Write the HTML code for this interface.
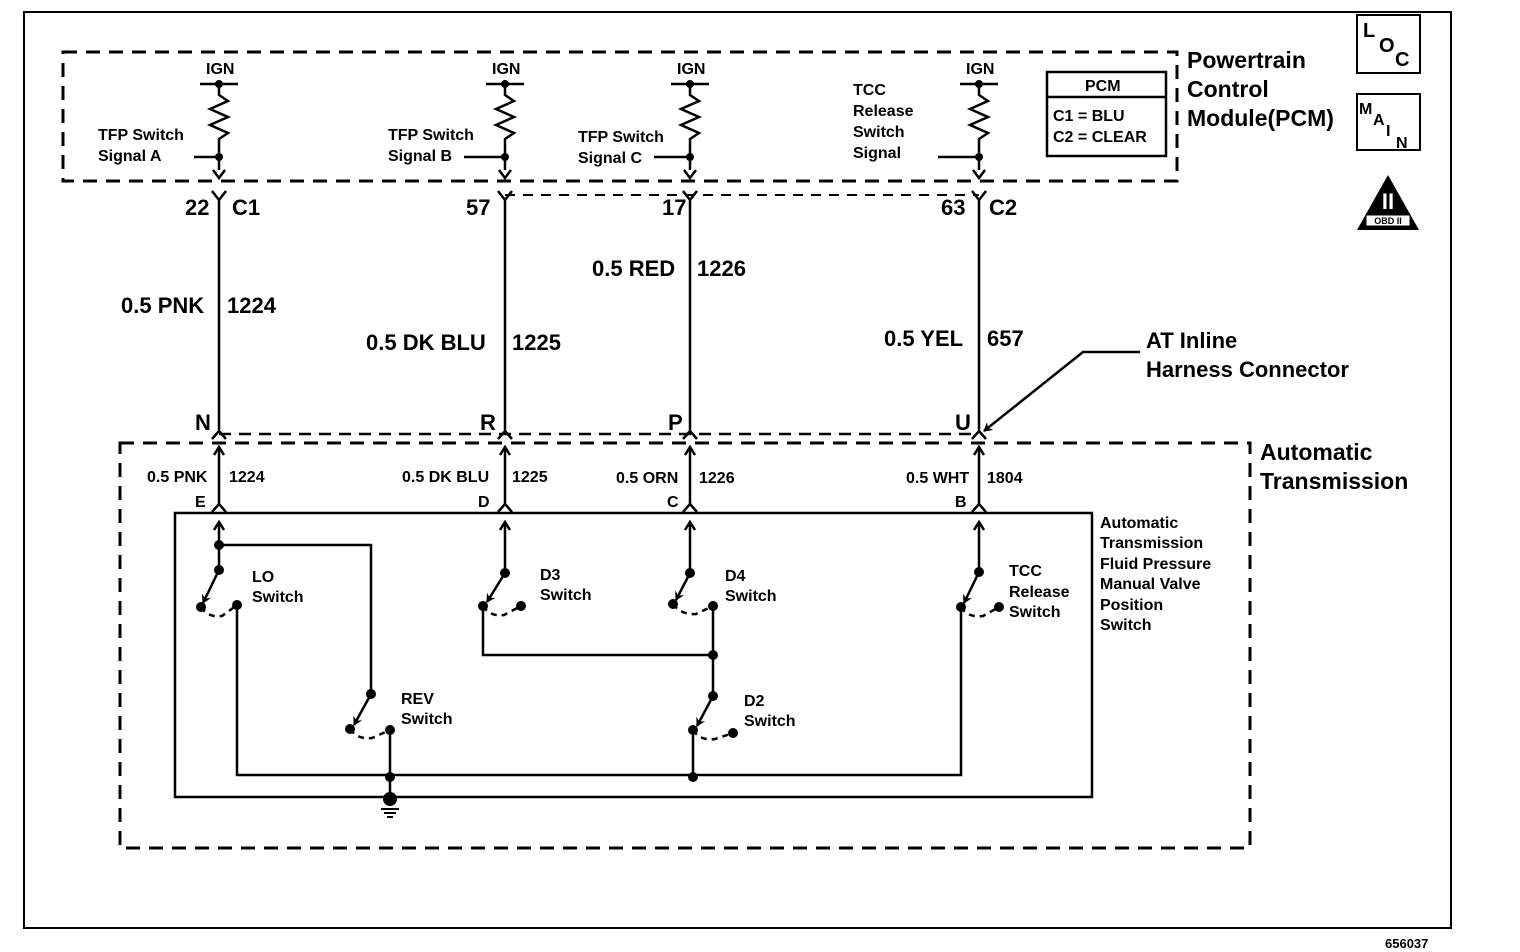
<!DOCTYPE html>
<html><head><meta charset="utf-8"><style>
html,body{margin:0;padding:0;background:#fff;}
svg{display:block;}
text{font-family:"Liberation Sans",Arial,sans-serif;fill:#000;}
.s{font-size:16px;font-weight:600;}
.m{font-size:22px;font-weight:600;}
.l{font-size:23px;font-weight:600;}
</style></head><body>
<svg width="1520" height="952" viewBox="0 0 1520 952" xmlns="http://www.w3.org/2000/svg">
<defs>
<marker id="ah" markerWidth="10" markerHeight="10" refX="8" refY="5" orient="auto" markerUnits="userSpaceOnUse"><path d="M0,0 L9,5 L0,10 L3,5 Z" fill="#000"/></marker>
</defs>
<g stroke="#000" fill="none" stroke-width="2.5">
<rect x="24" y="12" width="1427" height="916" stroke-width="2"/>
<rect x="63" y="52" width="1114" height="129" stroke-width="3" stroke-dasharray="14,9"/>
<rect x="120" y="443" width="1130" height="405" stroke-width="3" stroke-dasharray="14,9"/>
<path d="M219,434 L979,434" stroke-width="2.5" stroke-dasharray="12,8"/>
<path d="M505,195 L979,195" stroke-width="2" stroke-dasharray="10,8"/>
<rect x="175" y="513" width="917" height="284" stroke-width="2.5"/>

<g>
<path d="M200,84 L238,84"/>
<path d="M219,84 L219,95 L228,101 L210,109 L228,117 L210,125 L228,133 L219,139 L219,170"/>
<path d="M194,157 L219,157"/>
<path d="M213,170 L219,178 L225,170"/>
</g>
<g transform="translate(286,0)"><path d="M200,84 L238,84"/><path d="M219,84 L219,95 L228,101 L210,109 L228,117 L210,125 L228,133 L219,139 L219,170"/><path d="M213,170 L219,178 L225,170"/></g>
<path d="M464,157 L505,157"/>
<g transform="translate(471,0)"><path d="M200,84 L238,84"/><path d="M219,84 L219,95 L228,101 L210,109 L228,117 L210,125 L228,133 L219,139 L219,170"/><path d="M213,170 L219,178 L225,170"/></g>
<path d="M654,157 L690,157"/>
<g transform="translate(760,0)"><path d="M200,84 L238,84"/><path d="M219,84 L219,95 L228,101 L210,109 L228,117 L210,125 L228,133 L219,139 L219,170"/><path d="M213,170 L219,178 L225,170"/></g>
<path d="M938,157 L979,157"/>

<rect x="1047" y="72" width="119" height="84" stroke-width="2.5"/>
<path d="M1047,97 L1166,97"/>

<g>
<path d="M219,200 L219,430"/><path d="M212,191 L219,200 L226,191"/>
<path d="M505,200 L505,430"/><path d="M498,191 L505,200 L512,191"/>
<path d="M690,200 L690,430"/><path d="M683,191 L690,200 L697,191"/>
<path d="M979,200 L979,430"/><path d="M972,191 L979,200 L986,191"/>
</g>
<g>
<path d="M212,439 L219,431 L226,439"/><path d="M219,447 L219,506"/><path d="M214,455 L219,447 L224,455"/><path d="M212,512 L219,504 L226,512"/><path d="M219,522 L219,570"/><path d="M214,530 L219,522 L224,530"/>
<path d="M498,439 L505,431 L512,439"/><path d="M505,447 L505,506"/><path d="M500,455 L505,447 L510,455"/><path d="M498,512 L505,504 L512,512"/><path d="M505,522 L505,573"/><path d="M500,530 L505,522 L510,530"/>
<path d="M683,439 L690,431 L697,439"/><path d="M690,447 L690,506"/><path d="M685,455 L690,447 L695,455"/><path d="M683,512 L690,504 L697,512"/><path d="M690,522 L690,573"/><path d="M685,530 L690,522 L695,530"/>
<path d="M972,439 L979,431 L986,439"/><path d="M979,447 L979,506"/><path d="M974,455 L979,447 L984,455"/><path d="M972,512 L979,504 L986,512"/><path d="M979,522 L979,572"/><path d="M974,530 L979,522 L984,530"/>
</g>

<path d="M219,545 L371,545 L371,694"/>
<path d="M237,605 L237,775 L961,775 L961,607"/>
<path d="M390,730 L390,797"/>
<path d="M483,606 L483,655 L713,655"/>
<path d="M713,606 L713,696"/>
<path d="M693,730 L693,775"/>

<path d="M219,570 L203,603" marker-end="url(#ah)"/>
<path d="M201,607 Q208,618 222,616 L237,605" stroke-dasharray="6,5"/>
<path d="M371,694 L354,725" marker-end="url(#ah)"/>
<path d="M350,729 Q358,740 372,738 L390,730" stroke-dasharray="6,5"/>
<path d="M505,573 L487,602" marker-end="url(#ah)"/>
<path d="M483,606 Q490,617 504,615 L521,606" stroke-dasharray="6,5"/>
<path d="M690,573 L676,600" marker-end="url(#ah)"/>
<path d="M673,604 Q681,615 696,614 L713,606" stroke-dasharray="6,5"/>
<path d="M713,696 L697,726" marker-end="url(#ah)"/>
<path d="M693,730 Q700,741 715,739 L733,733" stroke-dasharray="6,5"/>
<path d="M979,572 L964,603" marker-end="url(#ah)"/>
<path d="M961,607 Q968,618 983,616 L999,607" stroke-dasharray="6,5"/>

<path d="M381,809 L399,809 M384,813 L396,813 M387,817 L393,817" stroke-width="2"/>

<path d="M1140,352 L1083,352 L984,431" marker-end="url(#ah)"/>

<rect x="1357" y="15" width="63" height="58" stroke-width="2"/>
<rect x="1357" y="94" width="63" height="56" stroke-width="2"/>
</g>

<g fill="#000">
<circle cx="219" cy="84" r="4"/><circle cx="219" cy="157" r="4"/>
<circle cx="505" cy="84" r="4"/><circle cx="505" cy="157" r="4"/>
<circle cx="690" cy="84" r="4"/><circle cx="690" cy="157" r="4"/>
<circle cx="979" cy="84" r="4"/><circle cx="979" cy="157" r="4"/>
<circle cx="219" cy="545" r="5"/><circle cx="219" cy="570" r="5"/><circle cx="201" cy="607" r="5"/><circle cx="237" cy="605" r="5"/>
<circle cx="371" cy="694" r="5"/><circle cx="350" cy="729" r="5"/><circle cx="390" cy="730" r="5"/><circle cx="390" cy="777" r="5"/>
<circle cx="505" cy="573" r="5"/><circle cx="483" cy="606" r="5"/><circle cx="521" cy="606" r="5"/>
<circle cx="690" cy="573" r="5"/><circle cx="673" cy="604" r="5"/><circle cx="713" cy="606" r="5"/><circle cx="713" cy="655" r="5"/>
<circle cx="713" cy="696" r="5"/><circle cx="693" cy="730" r="5"/><circle cx="733" cy="733" r="5"/><circle cx="693" cy="777" r="5"/>
<circle cx="979" cy="572" r="5"/><circle cx="961" cy="607" r="5"/><circle cx="999" cy="607" r="5"/>
<circle cx="390" cy="799" r="7"/>
<path d="M1388,175 L1357,230 L1419,230 Z"/>
</g>
<rect x="1366" y="215" width="44" height="11" fill="#fff" stroke="#000"/>
<text x="1388" y="224" font-size="9" text-anchor="middle" font-weight="bold">OBD II</text>
<text x="1388" y="209" font-size="22" text-anchor="middle" style="fill:#fff" font-family="Liberation Serif" font-weight="bold">II</text>

<g class="s">
<text x="206" y="74">IGN</text><text x="492" y="74">IGN</text><text x="677" y="74">IGN</text><text x="966" y="74">IGN</text>
<text x="98" y="140">TFP Switch</text><text x="98" y="161">Signal A</text>
<text x="388" y="140">TFP Switch</text><text x="388" y="161">Signal B</text>
<text x="578" y="142">TFP Switch</text><text x="578" y="163">Signal C</text>
<text x="853" y="95">TCC</text><text x="853" y="116">Release</text><text x="853" y="137">Switch</text><text x="853" y="158">Signal</text>
<text x="1085" y="91">PCM</text>
<text x="1053" y="121">C1 = BLU</text><text x="1053" y="142">C2 = CLEAR</text>
<text x="147" y="482">0.5 PNK</text><text x="229" y="482">1224</text>
<text x="402" y="482">0.5 DK BLU</text><text x="512" y="482">1225</text>
<text x="616" y="483">0.5 ORN</text><text x="699" y="483">1226</text>
<text x="906" y="483">0.5 WHT</text><text x="987" y="483">1804</text>
<text x="195" y="507">E</text><text x="478" y="507">D</text><text x="667" y="507">C</text><text x="955" y="507">B</text>
<text x="252" y="582">LO</text><text x="252" y="602">Switch</text>
<text x="401" y="704">REV</text><text x="401" y="724">Switch</text>
<text x="540" y="580">D3</text><text x="540" y="600">Switch</text>
<text x="725" y="581">D4</text><text x="725" y="601">Switch</text>
<text x="744" y="706">D2</text><text x="744" y="726">Switch</text>
<text x="1009" y="576">TCC</text><text x="1009" y="597">Release</text><text x="1009" y="617">Switch</text>
<text x="1100" y="528">Automatic</text><text x="1100" y="548">Transmission</text><text x="1100" y="569">Fluid Pressure</text><text x="1100" y="589">Manual Valve</text><text x="1100" y="610">Position</text><text x="1100" y="630">Switch</text>
<text x="1363" y="37" font-size="20">L</text><text x="1379" y="52" font-size="20">O</text><text x="1395" y="66" font-size="20">C</text>
<text x="1359" y="114" font-size="16">M</text><text x="1373" y="125" font-size="16">A</text><text x="1386" y="136" font-size="16">I</text><text x="1396" y="148" font-size="16">N</text>
<text x="1385" y="948" font-size="13">656037</text>
</g>
<g class="m">
<text x="185" y="215">22</text><text x="232" y="215">C1</text>
<text x="466" y="215">57</text>
<text x="662" y="215">17</text>
<text x="941" y="215">63</text><text x="989" y="215">C2</text>
<text x="121" y="313">0.5 PNK</text><text x="227" y="313">1224</text>
<text x="366" y="350">0.5 DK BLU</text><text x="512" y="350">1225</text>
<text x="592" y="276">0.5 RED</text><text x="697" y="276">1226</text>
<text x="884" y="346">0.5 YEL</text><text x="987" y="346">657</text>
<text x="195" y="430">N</text><text x="480" y="430">R</text><text x="668" y="430">P</text><text x="955" y="430">U</text>
<text x="1146" y="348">AT Inline</text><text x="1146" y="377">Harness Connector</text>
</g>
<g class="l">
<text x="1187" y="68">Powertrain</text><text x="1187" y="97">Control</text><text x="1187" y="126">Module(PCM)</text>
<text x="1260" y="460">Automatic</text><text x="1260" y="489">Transmission</text>
</g>
</svg>
</body></html>
